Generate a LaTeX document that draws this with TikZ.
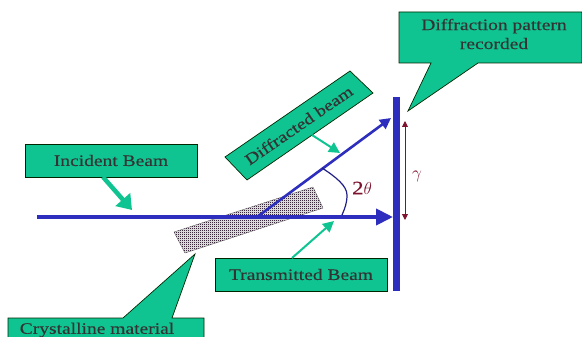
\documentclass[tikz,border=0pt]{standalone}
\usepackage{fontspec}
\setmainfont[FakeStretch=1.22,FakeBold=0.2]{Liberation Serif}
\usetikzlibrary{arrows.meta,patterns,calc}
\definecolor{boxgreen}{RGB}{16,196,146}
\definecolor{beamblue}{RGB}{45,45,190}
\definecolor{darkred}{RGB}{125,20,45}
\definecolor{crystaldot}{RGB}{60,40,60}
\pgfdeclarepatternformonly{finedots}{\pgfpointorigin}{\pgfqpoint{2pt}{2pt}}{\pgfqpoint{2pt}{2pt}}{%
  \pgfpathrectangle{\pgfpointorigin}{\pgfqpoint{1.2pt}{1.2pt}}\pgfusepath{fill}}
\tikzset{
  greenbox/.style={draw=black!85!green,line width=.7pt,fill=boxgreen,text=black!80,font=\fontsize{16}{19}\selectfont,inner sep=0pt,align=center},
  callout/.style={draw=black!85!green,line width=.7pt,fill=boxgreen},
  beam/.style={draw=beamblue,line width=4pt},
  pointer/.style={draw=boxgreen,line width=2pt,-{Triangle[length=11pt,width=11pt]}},
  label text/.style={text=black!80,font=\fontsize{16}{19}\selectfont,inner sep=0pt,align=center},
}
\begin{document}
\begin{tikzpicture}[x=1pt,y=-1pt]
\useasboundingbox (0,0) rectangle (582,337);
% crystal
\filldraw[draw=black!60,line width=.4pt,fill=black!15] (174,232) -- (185,253) -- (323,208) -- (313,187) -- cycle;
\fill[pattern=finedots,pattern color=crystaldot] (174,232) -- (185,253) -- (323,208) -- (313,187) -- cycle;
% boxes
\node[greenbox,minimum width=172pt,minimum height=33pt] (incident) at (111,160.5) {\raisebox{-1.5pt}{Incident Beam}};
\node[greenbox,minimum width=172pt,minimum height=33pt] (transmitted) at (301,274.5) {Transmitted Beam};
\draw[callout] (225,157) -- (350,71) -- (373,93) -- (247,180) -- cycle;
\node[label text,rotate=34.5] (diffracted) at (298.75,125.25) {Diffracted beam};
% callouts
\draw[callout] (399,12) -- (582,12) -- (582,63) -- (478,63) -- (408,111) -- (431,63) -- (399,63) -- cycle;
\node[label text] (pattern) at (494,34) {Diffraction pattern\\recorded};
\begin{scope}
\clip (0,0) rectangle (582,337);
\draw[callout] (8,318) -- (123,318) -- (195,254) -- (172,318) -- (204,318) -- (204,345) -- (8,345) -- cycle;
\end{scope}
\node[label text] (crystalline) at (97,330) {Crystalline material};
% screen and beams
\coordinate (beamstart) at (37,217);
\coordinate (transend) at (393,217);
\coordinate (origin) at (257,217);
\coordinate (diffend) at (391,118);
\node[fill=beamblue,minimum width=7pt,minimum height=194pt,inner sep=0pt] (screen) at (396.5,194) {};
\draw[beam,-{Triangle[length=17pt,width=16pt]}] (beamstart) -- (transend);
\draw[draw=beamblue,line width=2.6pt,-{Triangle[length=11pt,width=11pt]}] (origin) -- (diffend);
% pointers
\coordinate (incidentfrom) at (103,177);
\coordinate (incidentto) at (132,210);
\draw[draw=boxgreen,line width=4.5pt,-{Triangle[length=14pt,width=19pt]}] (incidentfrom) -- (incidentto);
\coordinate (diffrom) at (312,135);
\coordinate (difto) at (340,153);
\draw[pointer] (diffrom) -- (difto);
\coordinate (transfrom) at (292,258);
\coordinate (transto) at (334,221);
\draw[pointer] (transfrom) -- (transto);
% angle
\coordinate (arcstart) at (322,168);
\coordinate (arcend) at (342,215);
\draw[draw=beamblue!70!black,line width=1.2pt] (arcstart) .. controls (336,177) and (347,186) .. (347,195) .. controls (347,203) and (345,208) .. (arcend);
\node[text=darkred,font=\fontsize{19}{21}\selectfont,inner sep=0pt] (angle) at (362,188) {2$\theta$};
% gamma
\coordinate (gtop) at (405,121);
\coordinate (gbot) at (405,220);
\draw[draw=darkred,line width=.9pt,{Triangle[length=6pt,width=6pt]}-{Triangle[length=6pt,width=6pt]}] (gtop) -- (gbot);
\node[text=darkred,font=\fontsize{19}{21}\selectfont,inner sep=0pt] (gamma) at (417,176) {$\gamma$};
\end{tikzpicture}
\end{document}
